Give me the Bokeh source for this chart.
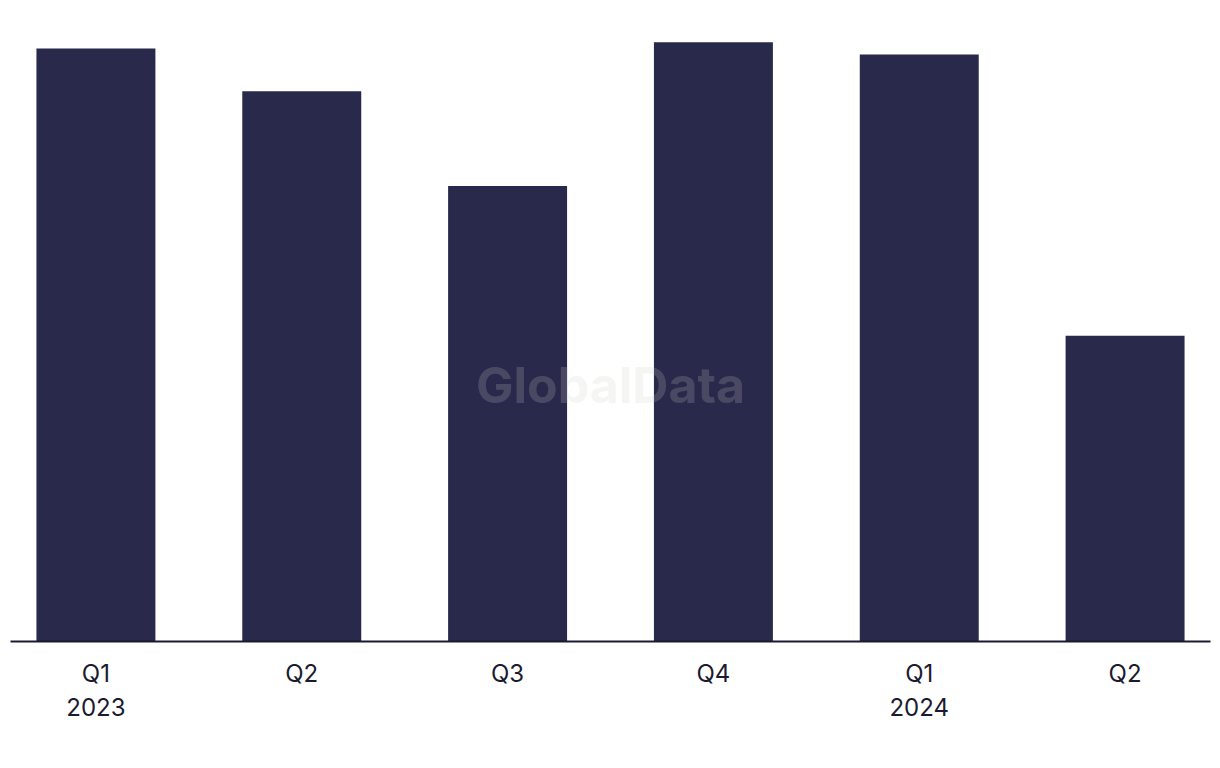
from bokeh.plotting import figure
from bokeh.models import FixedTicker, Range1d, Label
from bokeh.embed import file_html
from bokeh.resources import INLINE

quarters = ["Q1\n2023", "Q2", "Q3", "Q4", "Q1\n2024", "Q2"]
values = [97, 90, 74.5, 98, 96, 50]
positions = list(range(len(quarters)))

p = figure(width=1220, height=760, output_backend="svg", toolbar_location=None,
           x_range=Range1d(-0.415, 5.415), y_range=Range1d(0, 103.2),
           min_border_left=10, min_border_right=10, min_border_top=10, min_border_bottom=119)
p.outline_line_color = None
p.grid.grid_line_color = None
p.yaxis.visible = False
p.background_fill_color = "white"

p.vbar(x=positions, top=values, bottom=0, width=0.578, fill_color="#29294b", line_color=None)

ax = p.xaxis[0]
ax.ticker = FixedTicker(ticks=positions)
ax.major_label_overrides = {i: q for i, q in enumerate(quarters)}
ax.major_tick_line_color = None
ax.minor_tick_line_color = None
ax.axis_line_color = "#1b1b2f"
ax.axis_line_width = 2
ax.major_label_standoff = 11
ax.major_label_text_font = "Inter"
ax.major_label_text_font_size = "24px"
ax.major_label_text_color = "#1b1b2f"

wm = Label(x=2.5, y=41.9, text="GlobalData", text_align="center", text_baseline="middle",
           text_font="Inter", text_font_style="bold", text_font_size="50px",
           text_color="#cecec2", text_alpha=0.2)
p.add_layout(wm)

open("out.html", "w").write(file_html(p, INLINE))
